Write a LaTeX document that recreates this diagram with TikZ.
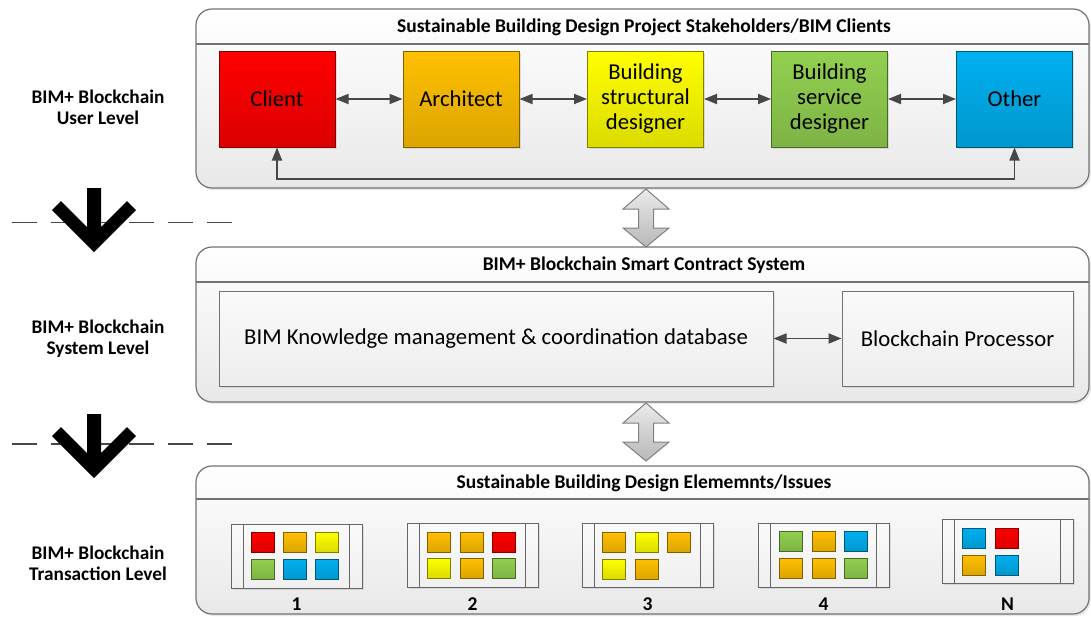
\documentclass[tikz,border=0pt]{standalone}
\usepackage{fontspec}
\setmainfont{Carlito}
\usepackage{tikz}
\usetikzlibrary{arrows.meta,shadows}
\definecolor{cRed}{HTML}{FF0000}
\definecolor{cOrange}{HTML}{FFC000}
\definecolor{cYellow}{HTML}{FFFF00}
\definecolor{cGreen}{HTML}{92D050}
\definecolor{cBlue}{HTML}{00B0F0}
\def\tile(#1,#2)#3{\draw[tile, top color=#3, bottom color=#3!86!black, draw=#3!50!black] (#1,#2) rectangle ++(23,20);}
\def\tray(#1,#2)#3#4{\node[traybox] (#3) at (#1+65.5, #2+32) {};
	\draw[traybd] ([xshift=13pt]#3.north west) -- ([xshift=13pt]#3.south west);
	\draw[traybd] ([xshift=-13pt]#3.north east) -- ([xshift=-13pt]#3.south east);
	\node[numlbl] (#3n) at (#1+65.5, 604) {#4};}

\begin{document}
\begin{tikzpicture}[x=1pt, y=-1pt,
	lvlbox/.style={draw=black!55, line width=1.2pt, rounded corners=16, top color=white, bottom color=black!9, inner sep=0, drop shadow={opacity=0.18, shadow xshift=2pt, shadow yshift=-2pt}},
	lvltitle/.style={font=\fontsize{19.5}{22}\selectfont\bfseries},
	lvllabel/.style={align=center, font=\fontsize{19.3}{21.5}\selectfont\bfseries},
	actor/.style={draw=#1!50!black, top color=#1, bottom color=#1!86!black, line width=1pt, minimum width=116, minimum height=96, align=center, font=\fontsize{22.7}{25}\selectfont, drop shadow={opacity=0.2, shadow xshift=1.5pt, shadow yshift=-1.5pt}},
	sysbox/.style={draw=black!55, line width=1pt, top color=black!2, bottom color=black!7, minimum height=95, font=\fontsize{22.7}{25}\selectfont, drop shadow={opacity=0.2, shadow xshift=1.5pt, shadow yshift=-1.5pt}},
	traybox/.style={draw=black!60, line width=1pt, top color=black!2, bottom color=black!6, minimum width=131, minimum height=64, inner sep=0, drop shadow={opacity=0.2, shadow xshift=1.5pt, shadow yshift=-1.5pt}},
	traybd/.style={draw=black!60, line width=1pt},
	tile/.style={line width=0.8pt},
	numlbl/.style={font=\fontsize{19.5}{22}\selectfont\bfseries},
	link/.style={{Triangle[length=13pt,width=10pt]}-{Triangle[length=13pt,width=10pt]}, draw=black!72, line width=1.8pt},
	sepline/.style={draw=black!72, line width=1.3pt, dash pattern=on 25pt off 14pt},
	bigarrow/.style={draw=black!50, line width=1pt, top color=black!8, bottom color=black!28}]
	%%%%% START %%%%%
	\useasboundingbox (0,0) rectangle (1091,616);
	
	% level frames
	\node[lvlbox, minimum width=893, minimum height=179] (user) at (642.5,98.5) {};
	\draw[draw=black!55, line width=1.2pt] (196,44) -- (1089,44);
	\node[lvltitle] (usertitle) at (644,27) {Sustainable Building Design Project Stakeholders/BIM Clients};
	
	\node[lvlbox, minimum width=893, minimum height=155] (sys) at (642.5,324.5) {};
	\draw[draw=black!55, line width=1.2pt] (196,282) -- (1089,282);
	\node[lvltitle] (systitle) at (644,265) {BIM+ Blockchain Smart Contract System};
	
	\node[lvlbox, minimum width=893, minimum height=148] (tx) at (642.5,540) {};
	\draw[draw=black!55, line width=1.2pt] (196,499) -- (1089,499);
	\node[lvltitle] (txtitle) at (644,483) {Sustainable Building Design Elememnts/Issues};
	
	% level names
	\node[lvllabel] (userlbl) at (98,107.5) {BIM+ Blockchain\\User Level};
	\node[lvllabel] (syslbl) at (98,338.5) {BIM+ Blockchain\\System Level};
	\node[lvllabel] (txlbl) at (98,563.5) {BIM+ Blockchain\\Transaction Level};
	
	% separators
	\draw[sepline] (12,222.5) -- (233,222.5);
	\draw[sepline] (12,444) -- (233,444);
	\fill[black] (87,188) -- (101,188) -- (101,227) -- (127,201) -- (136,210) -- (94,252) -- (52,210) -- (61,201) -- (87,227) -- cycle;
	\fill[black] (87,414) -- (101,414) -- (101,453) -- (127,427) -- (136,436) -- (94,478) -- (52,436) -- (61,427) -- (87,453) -- cycle;
	
	% stakeholders
	\node[actor=cRed] (client) at (277,99) {Client};
	\node[actor=cOrange] (arch) at (461,99) {Architect};
	\node[actor=cYellow] (struct) at (645.5,99) {Building\\structural\\designer};
	\node[actor=cGreen] (service) at (829.5,99) {Building\\service\\designer};
	\node[actor=cBlue] (other) at (1014.5,99) {Other};
	\coordinate (fb) at (645,179);
	
	\draw[link] (client) -- (arch);
	\draw[link] (arch) -- (struct);
	\draw[link] (struct) -- (service);
	\draw[link] (service) -- (other);
	\draw[link] (client.south) |- (fb) -| (other.south);
	
	% system
	\node[sysbox, minimum width=554] (kmdb) at (496,338.5) {BIM Knowledge management \& coordination database};
	\node[sysbox, minimum width=231] (proc) at (957.5,338.5) {Blockchain Processor};
	\draw[link] (kmdb) -- (proc);
	
	% level links
	\draw[bigarrow] (646,189) -- (669,209) -- (653.5,209) -- (653.5,228) -- (669,228) -- (646,247) -- (623,228) -- (638.5,228) -- (638.5,209) -- (623,209) -- cycle;
	\draw[bigarrow] (646,403) -- (669,423) -- (653.5,423) -- (653.5,442) -- (669,442) -- (646,461) -- (623,442) -- (638.5,442) -- (638.5,423) -- (623,423) -- cycle;
	
	% elements
	\tray(231,524){g1}{1}
	\tile(251,532){cRed} \tile(283,532){cOrange} \tile(315,532){cYellow}
	\tile(251,559){cGreen} \tile(283,559){cBlue} \tile(315,559){cBlue}
	
	\tray(407,523){g2}{2}
	\tile(427,532){cOrange} \tile(460,532){cOrange} \tile(492,532){cRed}
	\tile(427,558){cYellow} \tile(460,558){cOrange} \tile(492,558){cGreen}
	
	\tray(582,523){g3}{3}
	\tile(602,532){cOrange} \tile(635,532){cYellow} \tile(667,532){cOrange}
	\tile(602,559){cYellow} \tile(635,559){cOrange}
	
	\tray(758,523){g4}{4}
	\tile(779,531){cGreen} \tile(812,531){cOrange} \tile(844,531){cBlue}
	\tile(779,558){cOrange} \tile(812,558){cOrange} \tile(844,558){cGreen}
	
	\tray(942,519){gN}{N}
	\tile(962,528){cBlue} \tile(995,528){cRed}
	\tile(962,555){cOrange} \tile(995,555){cBlue}
	
	%%%%% END %%%%%
\end{tikzpicture}
\end{document}
